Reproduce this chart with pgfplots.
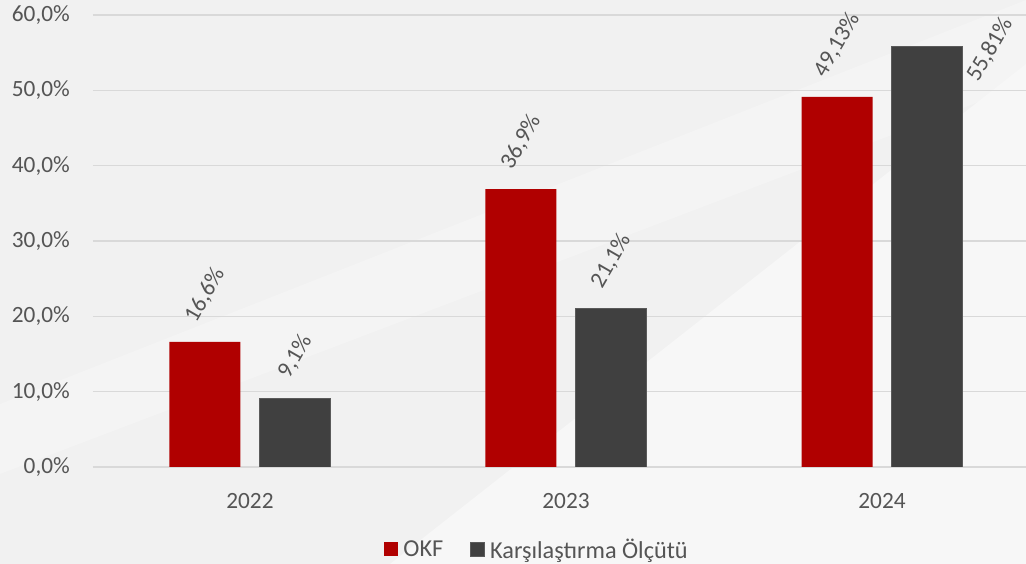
\documentclass[border=0pt]{standalone}
\usepackage{graphicx}
\usepackage{pgfplots}
\pgfplotsset{compat=1.18}
\usepackage{fontspec}
\setmainfont{Carlito}
\definecolor{okf}{HTML}{B00000}
\definecolor{bench}{HTML}{404040}
\definecolor{benchedge}{HTML}{5A5A5A}
\definecolor{txt}{HTML}{555555}
\definecolor{grd}{HTML}{D9D9D9}
\definecolor{bg}{HTML}{F1F1F1}
\definecolor{bgm}{HTML}{F4F4F4}
\definecolor{bgl}{HTML}{F7F7F7}
\newcommand{\lbl}{\fontsize{23.3}{28}\selectfont}
\newcommand{\lgd}{\fontsize{24.3}{28}\selectfont}
\begin{document}
\begin{tikzpicture}
\useasboundingbox (0,0) rectangle (1026pt,564pt);
\fill[bg] (0,0) rectangle (1026pt,564pt);
\fill[bgm] (0pt,90pt) -- (0pt,160pt) -- (1026pt,564pt) -- (1026pt,480pt) -- cycle;
\fill[bgl] (390pt,0pt) -- (1026pt,0pt) -- (1026pt,500pt) -- cycle;
\begin{axis}[
  at={(93pt,97pt)}, anchor=south west,
  scale only axis, width=933pt, height=452pt,
  xmin=-0.4968, xmax=2.4557, ymin=0, ymax=60,
  ybar=19pt, bar width=71pt,
  axis line style={draw=none}, tick style={draw=none},
  ymajorgrids, grid style={grd, line width=1.5pt},
  ytick={0,10,...,60},
  yticklabel={\pgfmathprintnumber[fixed,fixed zerofill,precision=1,use comma]{\tick}\%},
  /pgf/number format/assume math mode=true,
  xtick={0,1,2}, xticklabels={2022,2023,2024},
  tick label style={text=txt, font=\lbl},
  yticklabel style={inner sep=0pt, anchor=east, xshift=-23pt},
  xticklabel style={inner sep=0pt, anchor=north, yshift=-22pt},
  point meta=explicit symbolic,
  nodes near coords={\rotatebox{60}{\pgfplotspointmeta}},
  every node near coord/.append style={text=txt, font=\lbl, inner sep=0pt, anchor=south, yshift=17pt},
  legend style={at={(0.476,-0.182)}, anchor=center, draw=none, fill=none, font=\lgd, text=txt,
    /tikz/every odd column/.append style={column sep=3pt},
    /tikz/every even column/.append style={column sep=25pt}},
  legend columns=2,
  legend image code/.code={\fill[#1] (0pt,-7pt) rectangle (14pt,7pt);},
]
\addplot[fill=okf, draw=none, bar shift=-45pt] coordinates {(0,16.6) [16,6\%] (1,36.9) [36,9\%] (2,49.13) [49,13\%]};
\addplot[fill=bench, draw=benchedge, line width=0.8pt, bar shift=45pt] coordinates {(0,9.1) [9,1\%] (1,21.1) [21,1\%]};
\addplot[fill=bench, draw=benchedge, line width=0.8pt, bar shift=45pt, forget plot,
  every node near coord/.style={text=txt, font=\lbl, inner sep=0pt, xshift=108pt, yshift=-3pt, anchor=center}]
  coordinates {(2,55.81) [55,81\%]};
\legend{OKF, Karşılaştırma Ölçütü}
\end{axis}
\end{tikzpicture}
\end{document}
